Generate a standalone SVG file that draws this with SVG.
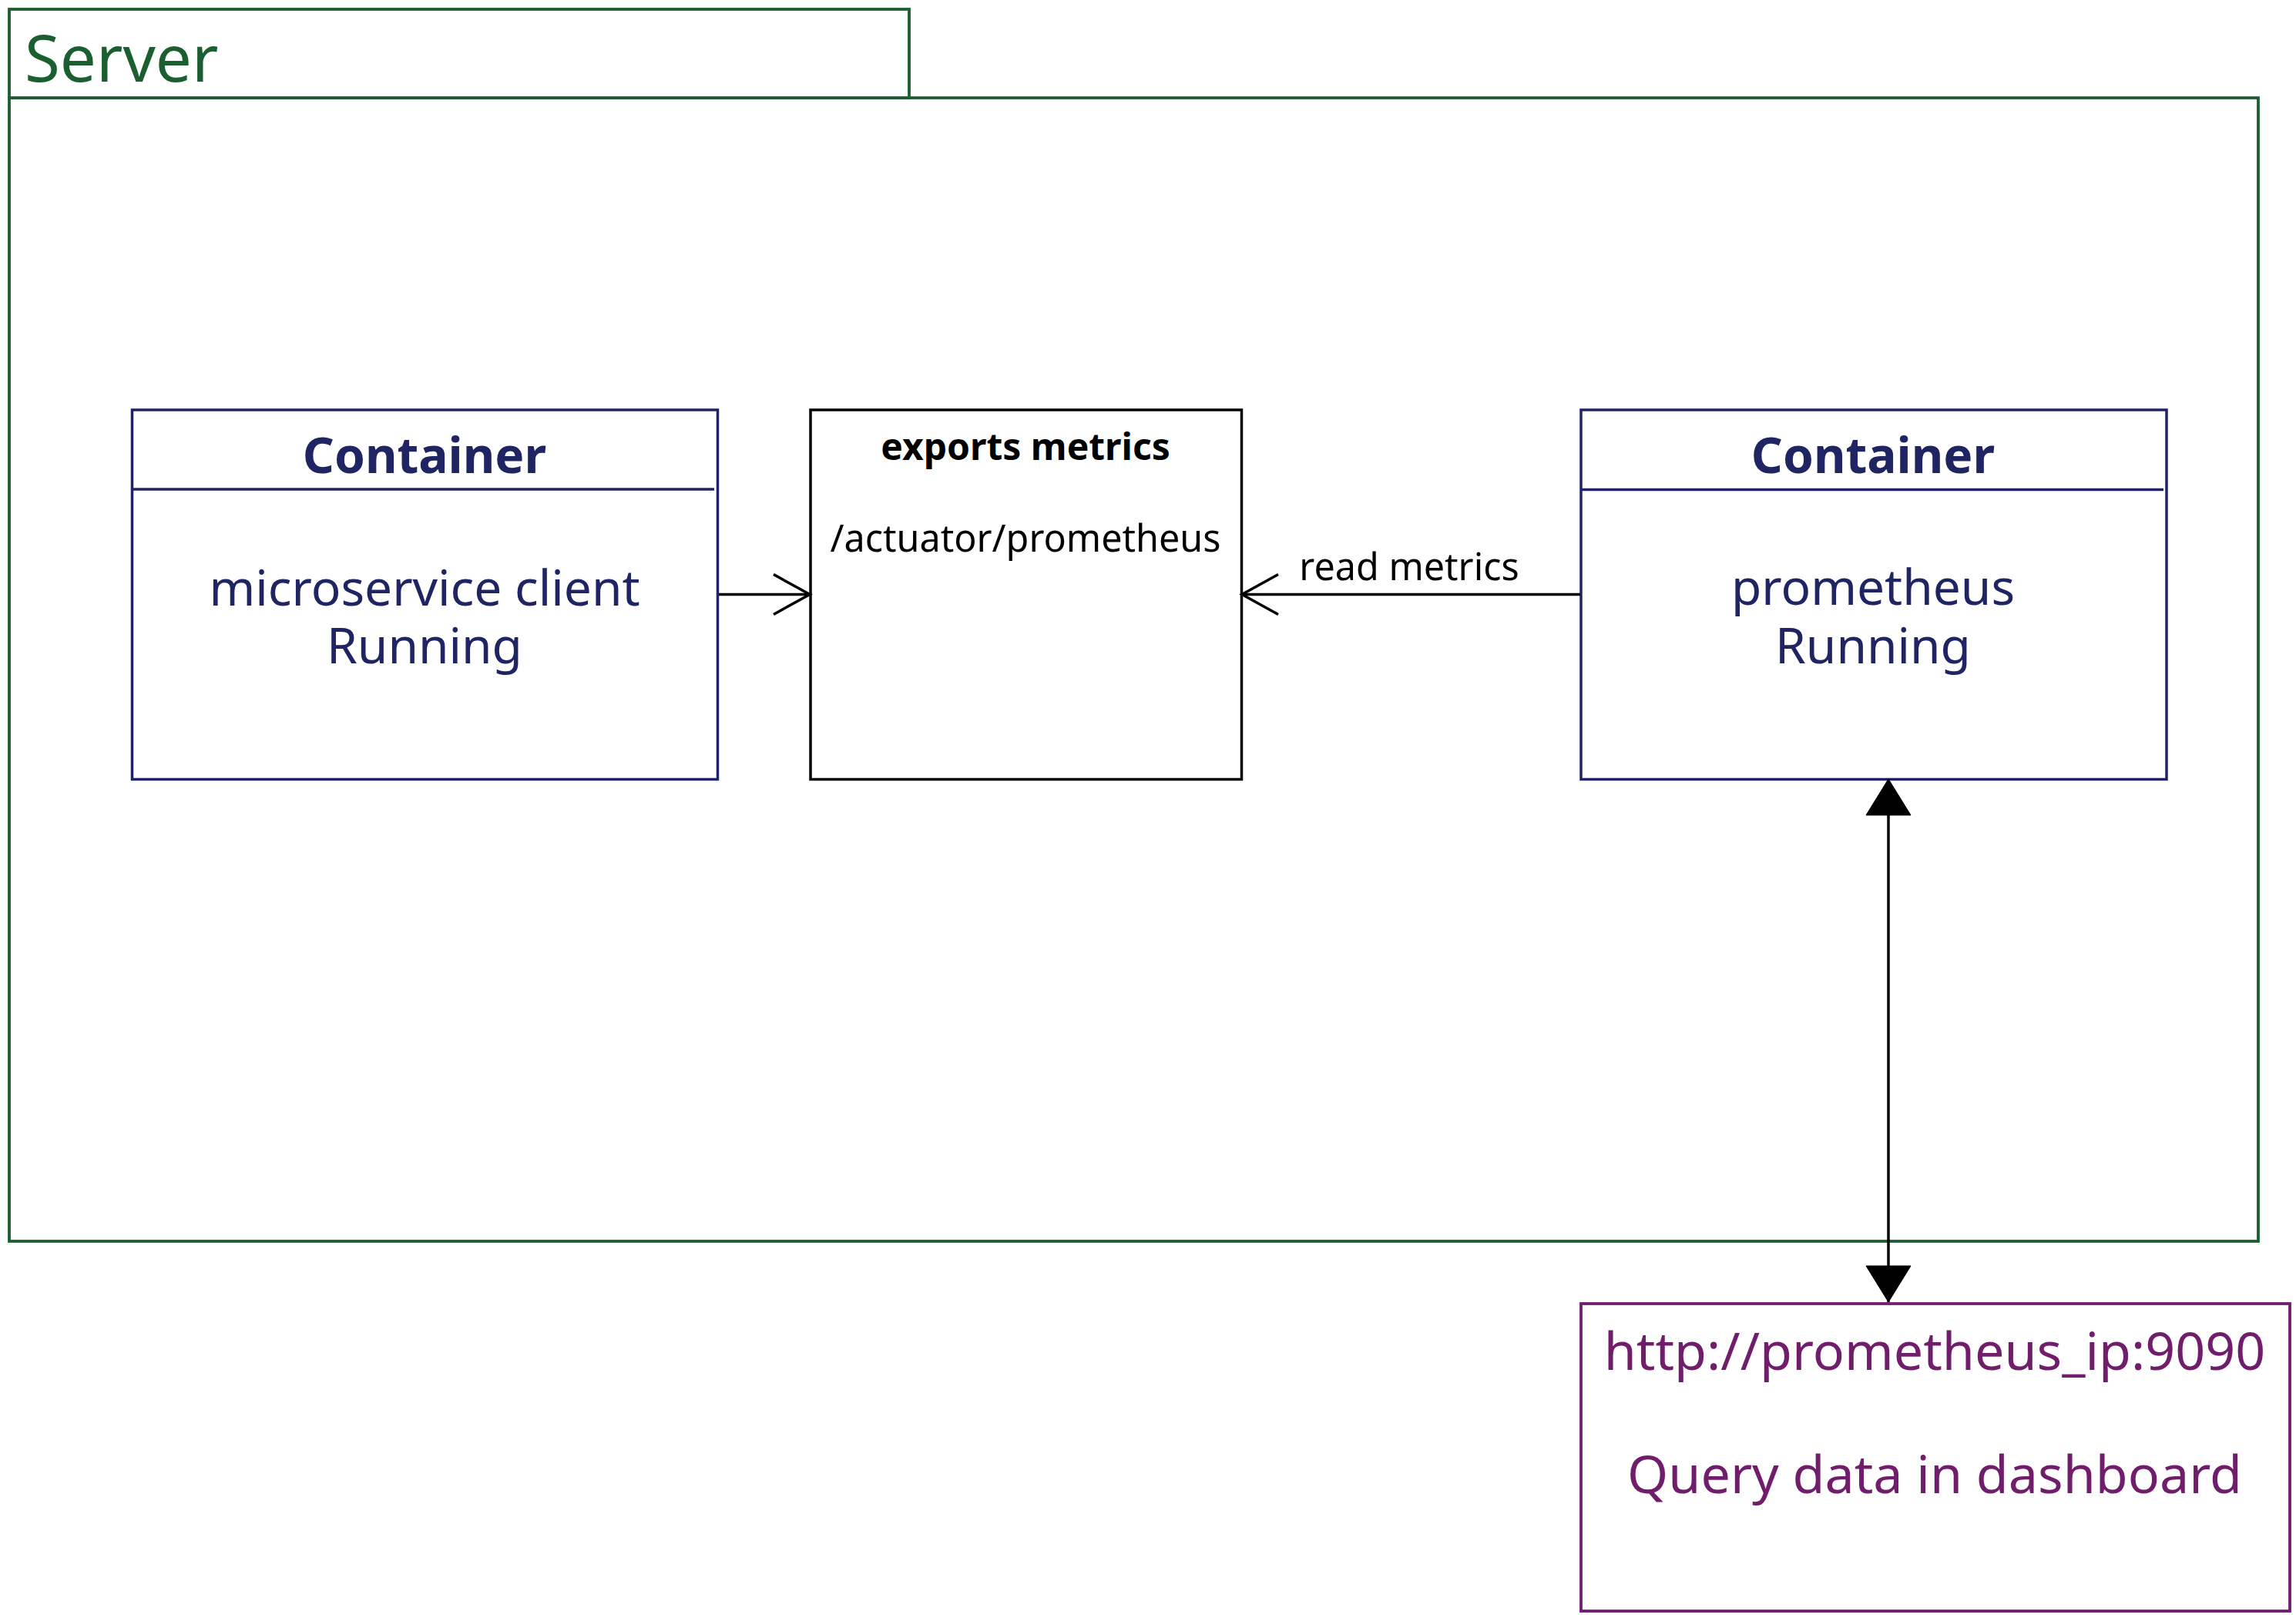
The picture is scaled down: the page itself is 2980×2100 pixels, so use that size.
<svg xmlns="http://www.w3.org/2000/svg" width="2980" height="2100" viewBox="0 0 2980 2100">
  <style>
    text { font-family: "Noto Sans", "Open Sans", "DejaVu Sans", sans-serif; }
    .frame { fill: none; stroke: #1b5e2f; stroke-width: 3.8; }
    .navy { fill: #ffffff; stroke: #1f2463; stroke-width: 3.5; }
    .navyline { stroke: #1f2463; stroke-width: 3.5; }
    .black { fill: #ffffff; stroke: #000000; stroke-width: 3.5; }
    .purple { fill: #ffffff; stroke: #701e6c; stroke-width: 3.8; }
    .edge { fill: none; stroke: #000000; stroke-width: 3.5; }
    .tnavy { fill: #1f2463; text-anchor: middle; }
    .tblack { fill: #000000; text-anchor: middle; }
    .tpurple { fill: #701e6c; text-anchor: middle; font-size: 68.2px; }
  </style>
  <defs>
    <marker id="openArrow" markerUnits="userSpaceOnUse" markerWidth="60" markerHeight="60" viewBox="0 0 60 60" refX="49" refY="28" orient="auto">
      <path d="M2,2 L49,28 L2,54" fill="none" stroke="#000000" stroke-width="3.5"/>
    </marker>
    <marker id="filledArrow" markerUnits="userSpaceOnUse" markerWidth="60" markerHeight="62" viewBox="0 0 60 62" refX="48" refY="30" orient="auto-start-reverse">
      <path d="M1,1 L48,30 L1,59 Z" fill="#000000" stroke="#000000" stroke-width="1"/>
    </marker>
  </defs>

  <rect width="2980" height="2100" fill="#ffffff"/>

  <g id="server">
    <rect class="frame" x="12" y="12" width="1168" height="115"/>
    <rect class="frame" x="12" y="127" width="2919" height="1484"/>
    <text x="32" y="106" font-size="83.5" fill="#1b5e2f">Server</text>
  </g>

  <g id="container-client">
    <rect class="navy" x="171.5" y="532" width="760" height="479.5"/>
    <line class="navyline" x1="171.5" y1="635" x2="927" y2="635"/>
    <text class="tnavy" x="551" y="614" font-size="64" font-weight="bold">Container</text>
    <text class="tnavy" x="551" y="786" font-size="64">microservice client</text>
    <text class="tnavy" x="551" y="861" font-size="64">Running</text>
  </g>

  <g id="exports-metrics">
    <rect class="black" x="1052" y="532" width="559.5" height="479.5"/>
    <text class="tblack" x="1331" y="597" font-size="48" font-weight="bold">exports metrics</text>
    <text class="tblack" x="1331" y="716" font-size="48.5">/actuator/prometheus</text>
  </g>

  <g id="container-prometheus">
    <rect class="navy" x="2052" y="532" width="760" height="479.5"/>
    <line class="navyline" x1="2052" y1="635.5" x2="2808" y2="635.5"/>
    <text class="tnavy" x="2431" y="614" font-size="64" font-weight="bold">Container</text>
    <text class="tnavy" x="2431" y="785" font-size="64">prometheus</text>
    <text class="tnavy" x="2431" y="861" font-size="64">Running</text>
  </g>

  <g id="dashboard">
    <rect class="purple" x="2052" y="1692" width="920" height="399"/>
    <text class="tpurple" x="2511" y="1778">http://prometheus_ip:9090</text>
    <text class="tpurple" x="2511" y="1938">Query data in dashboard</text>
  </g>

  <g id="connectors">
    <line class="edge" x1="933" y1="771.5" x2="1051" y2="771.5" marker-end="url(#openArrow)"/>
    <line class="edge" x1="2051" y1="771.5" x2="1612" y2="771.5" marker-end="url(#openArrow)"/>
    <text x="1829" y="753" font-size="48.5" fill="#000000" text-anchor="middle">read metrics</text>
    <line class="edge" x1="2451" y1="1690" x2="2451" y2="1011" marker-start="url(#filledArrow)" marker-end="url(#filledArrow)"/>
  </g>
</svg>
